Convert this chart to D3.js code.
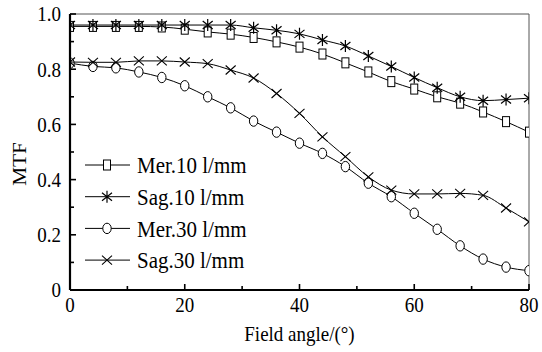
<!DOCTYPE html>
<html>
<head>
<meta charset="utf-8">
<script src="https://cdn.jsdelivr.net/npm/d3@7"></script>
<style>
  html, body { margin: 0; padding: 0; background: #fff; }
  svg { display: block; }
</style>
</head>
<body>
<div id="container"></div>
<script>
const width = 542, height = 352;
const FONT = "Liberation Serif, Tinos, DejaVu Serif, serif";
const STRETCH = 1.12; // the reference text is slightly taller than wide

// --- Data ---
const angles = [0, 4, 8, 12, 16, 20, 24, 28, 32, 36, 40, 44, 48, 52, 56, 60, 64, 68, 72, 76, 80];
const mer10 = [0.955, 0.955, 0.955, 0.955, 0.953, 0.945, 0.935, 0.927, 0.915, 0.899, 0.88, 0.855, 0.823, 0.79, 0.755, 0.728, 0.70, 0.677, 0.645, 0.61, 0.572];
const sag10 = [0.96, 0.96, 0.96, 0.96, 0.96, 0.96, 0.96, 0.96, 0.95, 0.941, 0.928, 0.906, 0.884, 0.848, 0.81, 0.77, 0.733, 0.70, 0.686, 0.69, 0.695];
const mer30 = [0.822, 0.81, 0.805, 0.79, 0.77, 0.74, 0.70, 0.66, 0.612, 0.572, 0.532, 0.495, 0.447, 0.387, 0.338, 0.278, 0.22, 0.16, 0.112, 0.083, 0.07];
const sag30 = [0.826, 0.825, 0.825, 0.83, 0.83, 0.826, 0.82, 0.797, 0.768, 0.712, 0.64, 0.555, 0.483, 0.41, 0.362, 0.348, 0.348, 0.35, 0.343, 0.297, 0.247];

const seriesNames = ["Mer.10 l/mm", "Sag.10 l/mm", "Mer.30 l/mm", "Sag.30 l/mm"];
const seriesValues = [mer10, sag10, mer30, sag30];
const seriesMarkers = ["square", "star", "circle", "cross"];

const xTicks = [0, 20, 40, 60, 80];
const yTicks = [0, 0.2, 0.4, 0.6, 0.8, 1.0];

// --- Layout ---
const margin = { top: 14, right: 13, bottom: 62, left: 70 };
const iw = width - margin.left - margin.right;
const ih = height - margin.top - margin.bottom;

const svg = d3.select("#container").append("svg")
  .attr("width", width).attr("height", height);
const g = svg.append("g").attr("transform", `translate(${margin.left},${margin.top})`);

const x = d3.scaleLinear().domain([0, 80]).range([0, iw]);
const y = d3.scaleLinear().domain([0, 1]).range([ih, 0]);

svg.append("defs").append("clipPath").attr("id", "plot-clip")
  .append("rect").attr("x", 0).attr("y", 0).attr("width", iw).attr("height", ih);

// text helper: positioned via transform so it can be stretched vertically
function label(parent, tx, ty, txt, size, anchor, rotate) {
  return parent.append("text")
    .attr("transform", `translate(${tx},${ty})${rotate ? " rotate(-90)" : ""} scale(${rotate ? STRETCH + ",1" : "1," + STRETCH})`)
    .attr("dy", "0.35em")
    .attr("text-anchor", anchor).attr("fill", "#000")
    .style("font-family", FONT).style("font-size", size + "px")
    .text(txt);
}

// --- Frame: thin top/right ---
g.append("line").attr("x1", 0).attr("x2", iw).attr("y1", 0).attr("y2", 0)
  .attr("stroke", "#555").attr("stroke-width", 1);
g.append("line").attr("x1", iw).attr("x2", iw).attr("y1", 0).attr("y2", ih)
  .attr("stroke", "#555").attr("stroke-width", 1);

// --- Marker drawing ---
function drawMarker(sel, type) {
  if (type === "square") {
    sel.append("rect").attr("x", -3.5).attr("y", -5).attr("width", 7).attr("height", 10)
      .attr("fill", "#fff").attr("stroke", "#000").attr("stroke-width", 1);
  } else if (type === "circle") {
    sel.append("ellipse").attr("rx", 4.2).attr("ry", 5.2)
      .attr("fill", "#fff").attr("stroke", "#000").attr("stroke-width", 1);
  } else if (type === "star") {
    sel.append("path").attr("d", "M-5,-4L5,4M-5,4L5,-4M0,-6L0,6")
      .attr("stroke", "#000").attr("stroke-width", 1.2).attr("fill", "none");
  } else if (type === "cross") {
    sel.append("path").attr("d", "M-5,-4.5L5,4.5M-5,4.5L5,-4.5")
      .attr("stroke", "#000").attr("stroke-width", 1.1).attr("fill", "none");
  }
}

// --- Series ---
const line = d3.line().x(d => x(d[0])).y(d => y(d[1])).curve(d3.curveMonotoneX);
const plot = g.append("g").attr("clip-path", "url(#plot-clip)");

seriesValues.forEach((vals, i) => {
  const pts = angles.map((a, j) => [a, vals[j]]);
  plot.append("path").datum(pts).attr("d", line)
    .attr("fill", "none").attr("stroke", "#000").attr("stroke-width", 1);
  plot.selectAll(null).data(pts).join("g")
    .attr("transform", d => `translate(${x(d[0])},${y(d[1])})`)
    .each(function () { drawMarker(d3.select(this), seriesMarkers[i]); });
});

// --- Axes (ticks pointing inward) ---
const xAxis = g.append("g").attr("transform", `translate(0,${ih})`);
xAxis.append("line").attr("x1", 0).attr("x2", iw).attr("y1", 0).attr("y2", 0)
  .attr("stroke", "#000").attr("stroke-width", 2.2);
d3.range(0, 81, 10).forEach(v => {
  const major = v % 20 === 0;
  xAxis.append("line").attr("x1", x(v)).attr("x2", x(v))
    .attr("y1", 0).attr("y2", major ? -6 : -4)
    .attr("stroke", "#000").attr("stroke-width", 1.6);
});
xTicks.forEach(d => label(xAxis, x(d), 15, d, 19, "middle"));

const yAxis = g.append("g");
yAxis.append("line").attr("x1", 0).attr("x2", 0).attr("y1", 0).attr("y2", ih)
  .attr("stroke", "#000").attr("stroke-width", 2.2);
d3.range(0, 11).forEach(k => {
  const v = k / 10;
  const major = k % 2 === 0;
  yAxis.append("line").attr("x1", 0).attr("x2", major ? 6 : 4)
    .attr("y1", y(v)).attr("y2", y(v))
    .attr("stroke", "#000").attr("stroke-width", 1.6);
});
yTicks.forEach(d => label(yAxis, -9, y(d), d === 0 ? "0" : d.toFixed(1), 19, "end"));

// --- Axis titles ---
label(svg, margin.left + iw / 2, 334, "Field angle/(°)", 19, "middle");
label(svg, 19, margin.top + ih / 2 + 12, "MTF", 19, "middle", true);

// --- Legend ---
const legend = svg.append("g").attr("transform", "translate(85,165)");
seriesNames.forEach((name, i) => {
  const row = legend.append("g").attr("transform", `translate(0,${i * 31.7})`);
  row.append("line").attr("x1", 0).attr("x2", 45).attr("y1", 0).attr("y2", 0)
    .attr("stroke", "#000").attr("stroke-width", 1);
  drawMarker(row.append("g").attr("transform", "translate(22,0)"), seriesMarkers[i]);
  label(row, 52, 0, name, 21, "start");
});
</script>
</body>
</html>
